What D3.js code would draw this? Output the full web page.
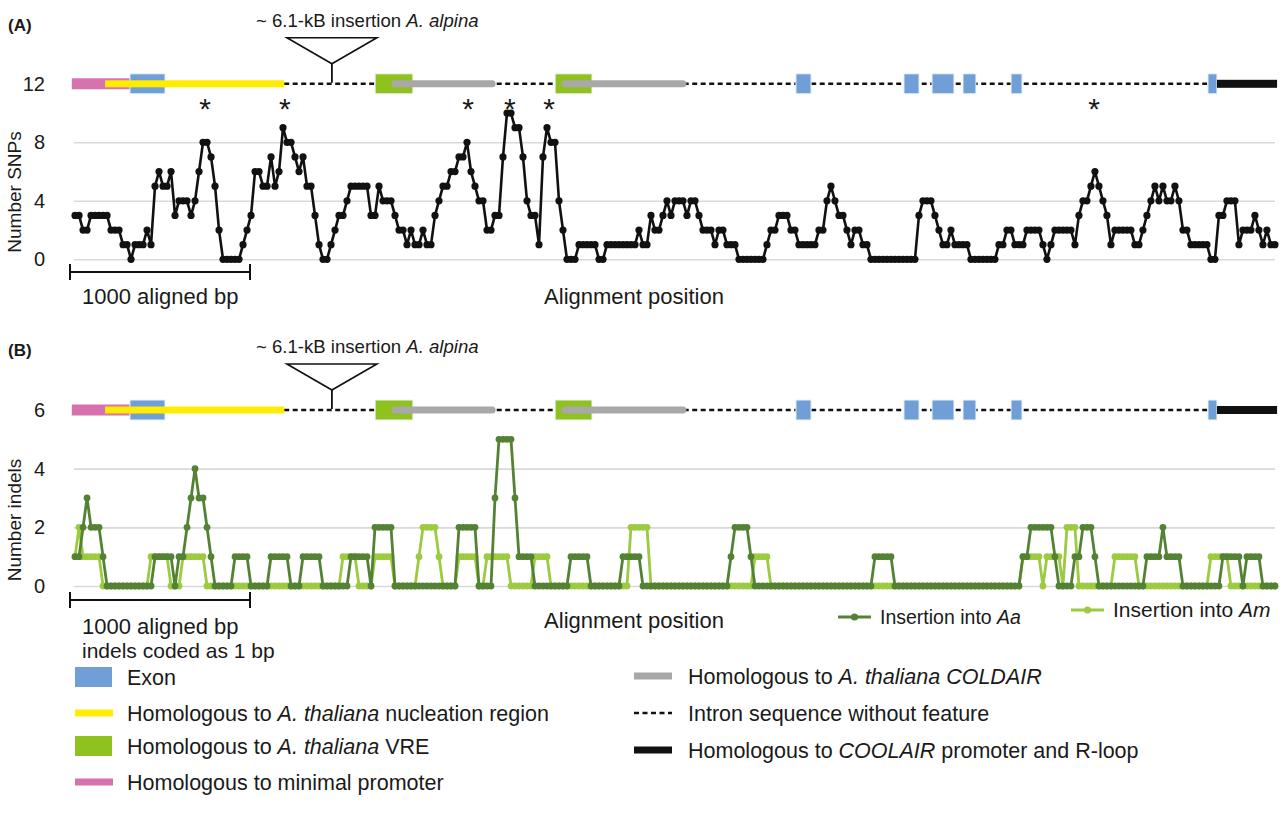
<!DOCTYPE html>
<html>
<head>
<meta charset="utf-8">
<script src="https://cdn.jsdelivr.net/npm/d3@7"></script>
<style>
  body { margin: 0; background: #fff; }
  text { font-family: "Liberation Sans", Arial, sans-serif; fill: #1a1a1a; }
</style>
</head>
<body>
<div id="chart"></div>
<script>
// sliding window counts, one value per window
var snpCounts = [
  3,3,2,2,3,3,3,3,3,2, 2,2,1,1,0,1,1,1,2,1, 5,6,5,5,6,3,4,4,4,3, 4,6,8,8,7,5,2,0,0,0,
  0,0,1,2,3,6,6,5,5,7, 5,6,9,8,8,7,6,7,5,5, 3,1,0,0,1,2,3,3,4,5, 5,5,5,5,3,3,5,4,4,4,
  3,2,2,1,2,1,1,2,1,1, 3,4,5,5,6,6,7,7,8,6, 5,4,4,2,2,3,3,7,10,10, 9,9,7,4,3,3,1,7,9,8,
  8,4,2,0,0,0,1,1,1,1, 1,0,0,1,1,1,1,1,1,1, 1,2,1,1,3,2,2,3,4,3, 4,4,4,3,4,4,3,2,2,2,
  1,2,2,1,1,1,0,0,0,0, 0,0,0,1,2,2,3,3,3,2, 2,1,1,1,1,1,2,2,4,5, 4,3,3,2,1,2,2,1,1,0,
  0,0,0,0,0,0,0,0,0,0, 0,3,4,4,4,3,2,1,1,2, 1,1,1,1,0,0,0,0,0,0, 0,1,1,2,2,1,1,1,2,2,
  2,2,1,0,1,2,2,2,2,2, 1,3,4,4,5,6,5,4,3,1, 2,2,2,2,2,1,1,2,3,4, 5,4,5,4,4,5,4,2,2,1,
  1,1,1,1,0,0,3,3,4,4, 4,1,2,2,2,3,2,1,2,1, 1
];
var indelAa = [
  1,1,2,3,2,2,2,1,0,0, 0,0,0,0,0,0,0,0,0,0, 1,1,1,1,1,0,1,1,2,3, 4,3,3,2,1,0,0,0,0,0,
  1,1,1,1,0,0,0,0,0,1, 1,1,1,1,0,0,0,1,1,1, 1,1,0,0,0,0,0,0,0,1, 1,1,1,1,0,2,2,2,2,2,
  0,0,0,0,0,0,0,0,0,0, 0,0,0,0,0,0,2,2,2,2, 2,0,0,0,0,3,5,5,5,5, 3,1,1,1,1,0,0,0,0,0,
  0,0,0,0,1,1,1,1,1,0, 0,0,0,0,0,0,0,1,1,1, 1,1,0,0,0,0,0,0,0,0, 0,0,0,0,0,0,0,0,0,0,
  0,0,0,0,1,2,2,2,2,1, 0,0,0,0,0,0,0,0,0,0, 0,0,0,0,0,0,0,0,0,0, 0,0,0,0,0,0,0,0,0,0,
  1,1,1,1,1,0,0,0,0,0, 0,0,0,0,0,0,0,0,0,0, 0,0,0,0,0,0,0,0,0,0, 0,0,0,0,0,0,0,1,1,2,
  2,2,2,2,2,1,0,0,0,0, 1,1,2,2,2,1,0,0,0,0, 0,0,0,0,0,0,0,0,1,1, 1,1,2,1,1,1,1,0,0,0,
  0,0,0,0,0,0,0,1,1,1, 1,1,0,1,1,1,1,0,0,0, 0
];
var indelAm = [
  1,2,1,1,1,1,1,0,0,0, 0,0,0,0,0,0,0,0,0,1, 1,1,1,1,0,0,0,1,1,1, 1,1,1,0,0,0,0,0,0,0,
  0,0,0,0,0,0,0,0,0,0, 0,0,0,0,0,0,0,0,0,0, 0,0,0,0,0,0,0,1,1,1, 1,0,0,0,0,1,1,1,1,1,
  0,0,0,0,0,0,1,2,2,2, 2,1,0,0,0,0,1,1,1,1, 1,0,0,1,1,1,1,1,1,0, 0,0,0,0,0,1,1,1,1,0,
  0,0,0,0,0,0,0,0,0,0, 0,0,0,0,0,0,0,0,0,2, 2,2,2,2,0,0,0,0,0,0, 0,0,0,0,0,0,0,0,0,0,
  0,0,0,0,0,0,0,0,0,0, 1,1,1,1,0,0,0,0,0,0, 0,0,0,0,0,0,0,0,0,0, 0,0,0,0,0,0,0,0,0,0,
  0,0,0,0,0,0,0,0,0,0, 0,0,0,0,0,0,0,0,0,0, 0,0,0,0,0,0,0,0,0,0, 0,0,0,0,0,0,0,1,1,1,
  1,1,0,1,1,1,1,0,2,2, 2,0,0,0,0,0,0,0,0,0, 1,1,1,1,1,1,0,0,0,0, 0,0,0,0,0,0,0,0,0,0,
  0,0,0,0,1,1,1,1,1,0, 0,0,0,0,0,0,0,0,0,0, 0
];
var windowStart = 28, windowStep = 22.22;   // bp

// gene model (alignment bp)
var promoterSpan = [10, 335];
var nucleationSpan = [195, 1190];
var vreSpans = [[1695, 1905], [2695, 2900]];
var coldairSpans = [[1805, 2345], [2750, 3405]];
var exonSpans = [[333, 528], [4033, 4117], [4633, 4717], [4789, 4911], [4961, 5033], [5228, 5289], [6322, 6372]];
var coolairSpan = [6372, 6706];
var insertionPos = 1455;
var starPos = [750, 1194, 2211, 2444, 2661, 5689];

var snpTicks = [0, 4, 8, 12];
var indelTicks = [0, 2, 4, 6];

var colBlue = "#6f9fd6", colYellow = "#ffec00", colGreen = "#8fc21f",
    colPink = "#d672ae", colGrey = "#a8a8a8", colDark = "#548235", colLight = "#9cca40";

var W = 1285, H = 828;
var svg = d3.select("#chart").append("svg")
    .attr("width", W).attr("height", H);

var x = d3.scaleLinear().domain([0, 6700]).range([70, 1276]);
var yA = d3.scaleLinear().domain([0, 12]).range([259.3, 83.8]);
var yB = d3.scaleLinear().domain([0, 6]).range([586, 410]);
var gridX0 = 74, gridX1 = 1275;
var fsBig = 22;

function pos(d, i) { return x(windowStart + i * windowStep); }

function grid(y, vals) {
  var g = svg.append("g")
      .attr("transform", "translate(" + gridX0 + ",0)")
      .call(d3.axisLeft(y).tickValues(vals).tickSize(-(gridX1 - gridX0)).tickFormat(""));
  g.select(".domain").remove();
  g.selectAll("line").style("stroke", "#d9d9d9").style("stroke-width", 1.6);
}
function yaxis(y, vals, title, cy) {
  var g = svg.append("g")
      .attr("transform", "translate(" + gridX0 + ",0)")
      .call(d3.axisLeft(y).tickValues(vals).tickSize(0).tickPadding(29).tickFormat(d3.format("d")));
  g.select(".domain").remove();
  g.selectAll("text").style("font-size", "20px").style("font-family", "Liberation Sans, Arial, sans-serif").attr("fill", "#1a1a1a");
  svg.append("text")
      .attr("transform", "translate(21," + cy + ") rotate(-90)")
      .attr("text-anchor", "middle")
      .style("font-size", "19px")
      .text(title);
}

function track(ty) {
  var g = svg.append("g");
  // intron dashed line
  g.append("line")
      .attr("x1", x(nucleationSpan[1])).attr("x2", x(coolairSpan[0]))
      .attr("y1", ty).attr("y2", ty)
      .style("stroke", "#111").style("stroke-width", 2.5).style("stroke-dasharray", "5,3.5");
  // insertion triangle
  var cx = x(insertionPos);
  g.append("path")
      .attr("d", "M" + (cx - 45) + "," + (ty - 46) + "L" + (cx + 45) + "," + (ty - 46) + "L" + cx + "," + (ty - 20) + "Z")
      .style("fill", "#fff").style("stroke", "#111").style("stroke-width", 1.6);
  g.append("line").attr("x1", cx).attr("x2", cx).attr("y1", ty - 20).attr("y2", ty - 1)
      .style("stroke", "#111").style("stroke-width", 1.8);
  var lab = g.append("text").attr("x", cx - 76).attr("y", ty - 57).style("font-size", "18.6px");
  lab.append("tspan").text("~ 6.1-kB insertion ");
  lab.append("tspan").style("font-style", "italic").text("A. alpina");

  function bar(span, h, col) {
    g.append("rect").attr("x", x(span[0])).attr("width", x(span[1]) - x(span[0]))
        .attr("y", ty - h / 2).attr("height", h).style("fill", col);
  }
  function box(span, col) {
    g.append("rect").attr("x", x(span[0])).attr("width", x(span[1]) - x(span[0]))
        .attr("y", ty - 10).attr("height", 20).style("fill", col)
        .style("stroke", "#eef3fa").style("stroke-width", 1);
  }
  bar(promoterSpan, 11, colPink);
  exonSpans.forEach(function(s) { box(s, colBlue); });
  bar(nucleationSpan, 7, colYellow);
  vreSpans.forEach(function(s) { box(s, colGreen); });
  coldairSpans.forEach(function(s) {
    g.append("line").attr("x1", x(s[0])).attr("x2", x(s[1])).attr("y1", ty).attr("y2", ty)
        .style("stroke", colGrey).style("stroke-width", 7).style("stroke-linecap", "round");
  });
  bar(coolairSpan, 8, "#111");
}

function series(data, y, col, r, w) {
  var line = d3.line().x(pos).y(function(d) { return y(d); });
  svg.append("path").datum(data).attr("d", line)
      .style("fill", "none").style("stroke", col).style("stroke-width", w)
      .style("stroke-linejoin", "round");
  svg.append("g").selectAll("circle").data(data).enter().append("circle")
      .attr("cx", pos).attr("cy", function(d) { return y(d); })
      .attr("r", r).style("fill", col);
}

function scaleBar(yy) {
  var g = svg.append("g").style("stroke", "#111").style("stroke-width", 2);
  g.append("line").attr("x1", x(0)).attr("x2", x(1000)).attr("y1", yy).attr("y2", yy);
  g.append("line").attr("x1", x(0)).attr("x2", x(0)).attr("y1", yy - 8).attr("y2", yy + 8);
  g.append("line").attr("x1", x(1000)).attr("x2", x(1000)).attr("y1", yy - 8).attr("y2", yy + 8);
}

// ---------- panel A ----------
grid(yA, [0, 4, 8]);
yaxis(yA, snpTicks, "Number SNPs", 192);
track(yA(12));
series(snpCounts, yA, "#111", 3.6, 2.6);
svg.append("g").selectAll("text").data(starPos).enter().append("text")
    .attr("x", function(d) { return x(d); }).attr("y", 119)
    .attr("text-anchor", "middle").style("font-size", "30px").text("*");
scaleBar(272);
svg.append("text").attr("x", 82).attr("y", 304).style("font-size", fsBig + "px").text("1000 aligned bp");
svg.append("text").attr("x", 634).attr("y", 304).attr("text-anchor", "middle").style("font-size", fsBig + "px").text("Alignment position");
svg.append("text").attr("x", 8).attr("y", 31).style("font-size", "17px").style("font-weight", "bold").text("(A)");

// ---------- panel B ----------
grid(yB, [0, 2, 4]);
yaxis(yB, indelTicks, "Number indels", 520);
track(yB(6));
series(indelAm, yB, colLight, 3.4, 2.8);
series(indelAa, yB, colDark, 3.4, 2.8);
scaleBar(600);
svg.append("text").attr("x", 82).attr("y", 634).style("font-size", fsBig + "px").text("1000 aligned bp");
svg.append("text").attr("x", 82).attr("y", 658).style("font-size", "21px").text("indels coded as 1 bp");
svg.append("text").attr("x", 634).attr("y", 628).attr("text-anchor", "middle").style("font-size", fsBig + "px").text("Alignment position");
svg.append("text").attr("x", 8).attr("y", 356).style("font-size", "17px").style("font-weight", "bold").text("(B)");

// inline series legend
[{lx: 838, ly: 617, col: colDark, name: "Aa", size: 19.5}, {lx: 1071, ly: 610, col: colLight, name: "Am", size: 21}].forEach(function(d) {
  svg.append("line").attr("x1", d.lx).attr("x2", d.lx + 33).attr("y1", d.ly).attr("y2", d.ly)
      .style("stroke", d.col).style("stroke-width", 2.8);
  svg.append("circle").attr("cx", d.lx + 16.5).attr("cy", d.ly).attr("r", 3.6).style("fill", d.col);
  var t = svg.append("text").attr("x", d.lx + 42).attr("y", d.ly + 7).style("font-size", d.size + "px");
  t.append("tspan").text("Insertion into ");
  t.append("tspan").style("font-style", "italic").text(d.name);
});

// ---------- bottom legend ----------
var legLeft = [
  {kind: "box", col: colBlue, y: 677, parts: [["Exon", 0]]},
  {kind: "bar", col: colYellow, y: 713, parts: [["Homologous to ", 0], ["A. thaliana", 1], [" nucleation region", 0]]},
  {kind: "box", col: colGreen, y: 746, parts: [["Homologous to ", 0], ["A. thaliana", 1], [" VRE", 0]]},
  {kind: "bar", col: colPink, y: 782, parts: [["Homologous to minimal promoter", 0]]}
];
var legRight = [
  {kind: "bar", col: colGrey, y: 676, parts: [["Homologous to ", 0], ["A. thaliana COLDAIR", 1]]},
  {kind: "dash", col: "#111", y: 713, parts: [["Intron sequence without feature", 0]]},
  {kind: "bar", col: "#111", y: 750, parts: [["Homologous to ", 0], ["COOLAIR", 1], [" promoter and R-loop", 0]]}
];
function legend(items, lx, tx) {
  items.forEach(function(d) {
    if (d.kind === "box") {
      svg.append("rect").attr("x", lx).attr("y", d.y - 10).attr("width", 37).attr("height", 20)
          .style("fill", d.col);
    } else if (d.kind === "bar") {
      svg.append("line").attr("x1", lx).attr("x2", lx + 38).attr("y1", d.y).attr("y2", d.y)
          .style("stroke", d.col).style("stroke-width", 7);
    } else {
      svg.append("line").attr("x1", lx).attr("x2", lx + 38).attr("y1", d.y).attr("y2", d.y)
          .style("stroke", d.col).style("stroke-width", 2.5).style("stroke-dasharray", "5,3.5");
    }
    var t = svg.append("text").attr("x", tx).attr("y", d.y + 7.5).style("font-size", "21.5px");
    d.parts.forEach(function(p) {
      t.append("tspan").style("font-style", p[1] ? "italic" : "normal").text(p[0]);
    });
  });
}
legend(legLeft, 75, 127);
legend(legRight, 634, 688);
</script>
</body>
</html>
